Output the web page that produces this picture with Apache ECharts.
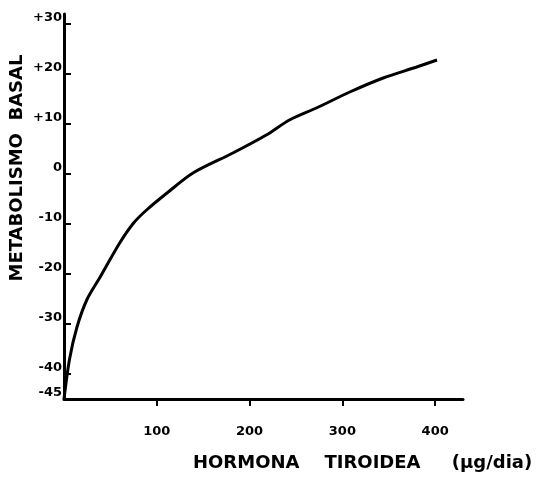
<!DOCTYPE html>
<html><head><meta charset="utf-8">
<script src="https://cdn.jsdelivr.net/npm/echarts@6/dist/echarts.min.js"></script>
<style>html,body{margin:0;padding:0;background:#fff}#c{width:546px;height:486px}</style>
</head><body><div id="c"></div>
<script>
var hormone = [0, 6, 14, 25, 39, 60, 75, 89, 111, 139, 182, 218, 243, 272, 308, 344, 380, 402];
var metabolism = [-45, -37, -30.6, -25, -20.6, -13.8, -9.8, -7.2, -3.8, 0.2, 4.2, 7.8, 10.8, 13.2, 16.4, 19.2, 21.4, 22.8];
var yTicks = [30, 20, 10, 0, -10, -20, -30, -40, -45];
var yTickLabels = ['+30', '+20', '+10', '0', '-10', '-20', '-30', '-40', '-45'];
var xTicks = [100, 200, 300, 400];
var xTitle = 'HORMONA    TIROIDEA     (µg/dia)';
var yTitle = 'METABOLISMO  BASAL';

var chart = echarts.init(document.getElementById('c'));
var font = 'DejaVu Sans';
chart.setOption({
  animation: false,
  backgroundColor: '#fff',
  grid: {left: 64, right: 83, top: 14, bottom: 87},
  graphic: [
    {type: 'text', left: 193, top: 454,
      style: {text: xTitle, fill: '#000', font: 'bold 18px "DejaVu Sans"'}},
    {type: 'text', x: 17, y: 168, rotation: Math.PI / 2,
      style: {text: yTitle, fill: '#000', font: 'bold 18px "DejaVu Sans"', align: 'center', verticalAlign: 'middle'}}
  ],
  xAxis: {
    type: 'value', min: 0, max: 430,
    axisLine: {show: true, onZero: false, lineStyle: {color: '#000', width: 3}},
    axisTick: {show: true, inside: false, length: 7, lineStyle: {color: '#000', width: 2},
      customValues: xTicks},
    axisLabel: {show: true, color: '#000', fontFamily: font, fontWeight: 'bold', fontSize: 13, margin: 26,
      customValues: xTicks},
    splitLine: {show: false}
  },
  yAxis: {
    type: 'value', min: -45, max: 32,
    axisLine: {show: true, lineStyle: {color: '#000', width: 3}},
    axisTick: {show: true, inside: true, length: 7, lineStyle: {color: '#000', width: 2},
      customValues: yTicks},
    axisLabel: {show: true, color: '#000', fontFamily: font, fontWeight: 'bold', fontSize: 13, margin: 2,
      verticalAlign: 'bottom',
      customValues: yTicks,
      formatter: function (v) { var i = yTicks.indexOf(v); return i >= 0 ? yTickLabels[i] : ''; }},
    splitLine: {show: false}
  },
  series: [{
    type: 'line', smooth: 0.3, symbol: 'none',
    lineStyle: {color: '#000', width: 3},
    data: hormone.map(function (x, i) { return [x, metabolism[i]]; })
  }]
});
</script></body></html>
